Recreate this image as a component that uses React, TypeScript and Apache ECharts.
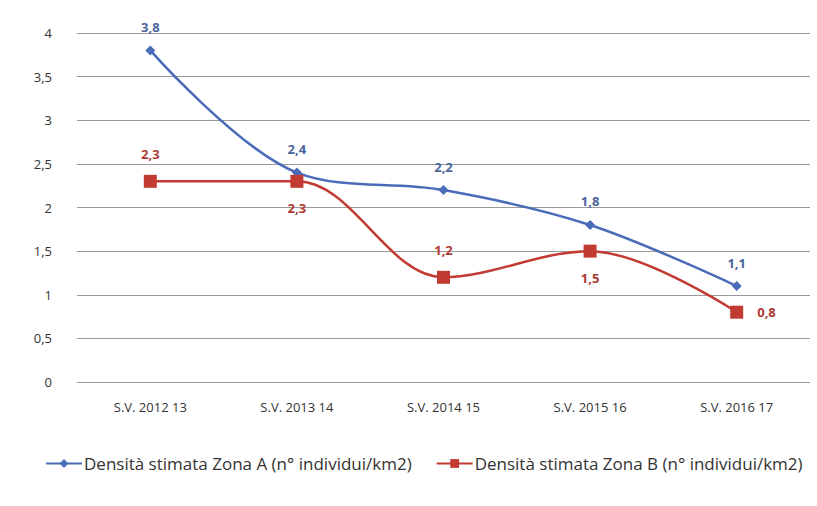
import React, { useEffect, useRef } from "react";
import * as echarts from "echarts";

const categories = ["S.V. 2012 13", "S.V. 2013 14", "S.V. 2014 15", "S.V. 2015 16", "S.V. 2016 17"];
const zonaA = [3.8, 2.4, 2.2, 1.8, 1.1];
const zonaB = [2.3, 2.3, 1.2, 1.5, 0.8];
const labelPosB = ["top", "bottom", "top", "bottom", "right"];
const nameA = "Densità stimata Zona A (n° individui/km2)";
const nameB = "Densità stimata Zona B (n° individui/km2)";

const fmt = (v: number) => String(v).replace(".", ",");

export default function App() {
  const ref = useRef<HTMLDivElement>(null);
  useEffect(() => {
    document.body.style.margin = "0";
    const chart = echarts.init(ref.current!, undefined, { renderer: "svg" });
    const blue = "#4a6cb8";
    const red = "#c23b33";
    chart.setOption({
      animation: false,
      backgroundColor: "#ffffff",
      textStyle: { fontFamily: "Open Sans" },
      grid: { left: 77, right: 7, top: 33, bottom: 124 },
      legend: {
        top: 455,
        left: 45,
        itemWidth: 36,
        itemHeight: 11,
        itemGap: 24,
        padding: 0,
        textStyle: { fontSize: 17, color: "#333", padding: [0, 0, 0, -3] },
        data: [nameA, nameB],
      },
      xAxis: {
        type: "category",
        data: categories,
        axisLine: { show: false },
        axisTick: { show: false },
        axisLabel: { fontSize: 13, color: "#333", margin: 18 },
      },
      yAxis: {
        type: "value",
        min: 0,
        max: 4,
        interval: 0.5,
        axisLine: { show: false },
        axisTick: { show: false },
        axisLabel: { fontSize: 13, color: "#333", margin: 25, formatter: (v: number) => fmt(v) },
        splitLine: { lineStyle: { color: "#9a9a9a", width: 1 } },
      },
      series: [
        {
          name: nameA,
          type: "line",
          smooth: 0.35,
          data: zonaA,
          symbol: "diamond",
          symbolSize: 10,
          itemStyle: { color: blue },
          lineStyle: { color: blue, width: 2.5 },
          label: {
            show: true,
            position: "top",
            distance: 12,
            color: "#4a6699",
            fontWeight: "bold",
            fontSize: 13,
            formatter: (p: any) => fmt(p.value),
          },
        },
        {
          name: nameB,
          type: "line",
          smooth: 0.35,
          data: zonaB.map((v, i) => ({ value: v, label: { position: labelPosB[i] } })),
          symbol: "rect",
          symbolSize: 13,
          itemStyle: { color: red },
          lineStyle: { color: red, width: 2.5 },
          label: {
            show: true,
            distance: 14,
            color: "#b03a33",
            fontWeight: "bold",
            fontSize: 13,
            formatter: (p: any) => fmt(p.value),
          },
        },
      ],
    });
    return () => chart.dispose();
  }, []);
  return <div ref={ref} style={{ width: 817, height: 506 }} />;
}
